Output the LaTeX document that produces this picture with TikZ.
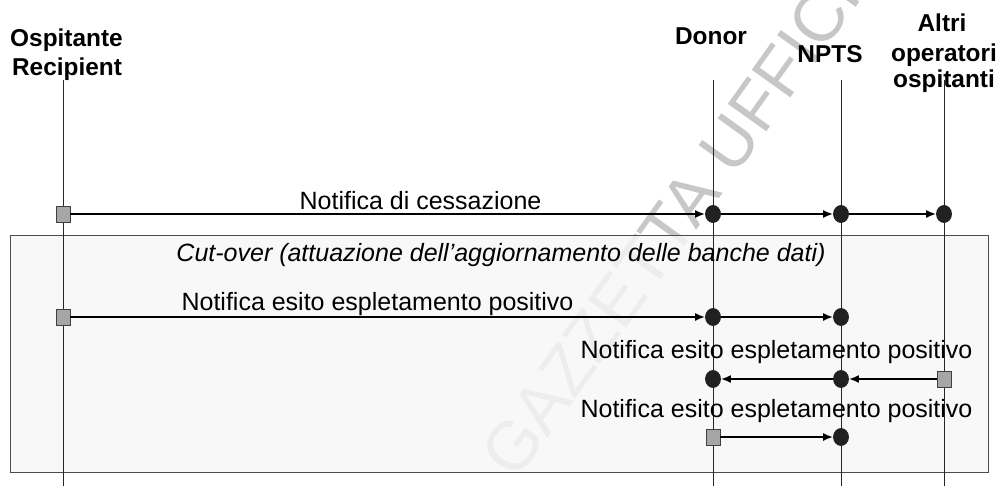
\documentclass[tikz,border=0pt]{standalone}
\usepackage{fontspec}
\setmainfont{Liberation Sans}
\usetikzlibrary{arrows.meta,shapes.geometric}
\begin{document}
\begin{tikzpicture}[x=0.5pt,y=-0.5pt,
  lifeline/.style={line width=0.5pt, draw=black!85},
  sq/.style={rectangle, draw=black!75, fill=black!35, line width=0.4pt, minimum width=7pt, minimum height=8pt, inner sep=0pt},
  dot/.style={ellipse, fill=black!87, draw=black!87, minimum width=7.5pt, minimum height=8.5pt, inner sep=0pt},
  msg/.style={line width=0.85pt, draw=black, -{Latex[length=5pt,width=4pt]}},
  head/.style={font=\fontsize{12.2}{14}\selectfont\bfseries, anchor=base, inner sep=0pt},
  lbl/.style={font=\fontsize{12.5}{15}\selectfont, anchor=base, inner sep=0pt},
  wmark/.style={rotate=54.4, anchor=base west, inner sep=0pt, text=black!22, font=\fontsize{34.5}{34.5}\selectfont}]
\useasboundingbox (0,0) rectangle (1000,486);
\clip (0,0) rectangle (1000,486);
\fill[white] (0,0) rectangle (1000,486);

% watermark
\node[wmark] (wm) at (516,482) {GAZZETTA UFFICIALE};

% cut-over box
\filldraw[fill=black!3, fill opacity=0.8, draw=black!70, line width=0.5pt] (10,236) rectangle (988,472);

% lifeline ends
\coordinate (rT) at (63,80);  \coordinate (rB) at (63,486);
\coordinate (dT) at (713,80); \coordinate (dB) at (713,486);
\coordinate (nT) at (841,80); \coordinate (nB) at (841,486);
\coordinate (aT) at (944,80); \coordinate (aB) at (944,486);
\draw[lifeline] (rT) -- (rB);
\draw[lifeline] (dT) -- (dB);
\draw[lifeline] (nT) -- (nB);
\draw[lifeline] (aT) -- (aB);

% headers
\node[head] (h1a) at (66.5,47) {Ospitante};
\node[head] (h1b) at (67,76) {Recipient};
\node[head] (h2) at (711,45) {Donor};
\node[head] (h3) at (830,63) {NPTS};
\node[head] (h4a) at (942,32) {Altri};
\node[head] (h4b) at (944,62) {operatori};
\node[head] (h4c) at (944,88) {ospitanti};

% texts
\node[lbl] (t1) at (420.5,210) {Notifica di cessazione};
\node[lbl, font=\fontsize{12.5}{15}\selectfont\itshape] (t0) at (501,262) {Cut-over (attuazione dell’aggiornamento delle banche dati)};
\node[lbl] (t2) at (377.5,310) {Notifica esito espletamento positivo};
\node[lbl] (t3) at (776.5,358) {Notifica esito espletamento positivo};
\node[lbl] (t4) at (776.5,417) {Notifica esito espletamento positivo};

% markers
\node[sq]  (r1) at (63,214) {};
\node[dot] (d1) at (713,214) {};
\node[dot] (n1) at (841,214) {};
\node[dot] (a1) at (944,214) {};
\node[sq]  (r2) at (63,317) {};
\node[dot] (d2) at (713,317) {};
\node[dot] (n2) at (841,317) {};
\node[dot] (d3) at (713,379) {};
\node[dot] (n3) at (841,379) {};
\node[sq]  (a3) at (944,379) {};
\node[sq]  (d4) at (713,437) {};
\node[dot] (n4) at (841,437) {};

% messages
\draw[msg] (r1) -- (d1);
\draw[msg] (d1) -- (n1);
\draw[msg] (n1) -- (a1);
\draw[msg] (r2) -- (d2);
\draw[msg] (d2) -- (n2);
\draw[msg] (a3) -- (n3);
\draw[msg] (n3) -- (d3);
\draw[msg] (d4) -- (n4);
\end{tikzpicture}
\end{document}
